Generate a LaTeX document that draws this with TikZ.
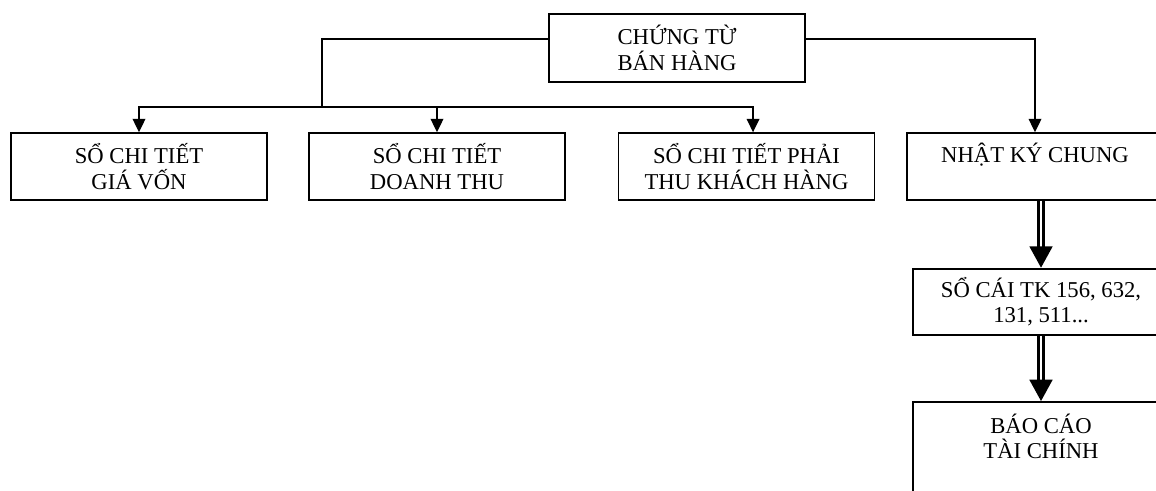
\documentclass[tikz,border=0pt]{standalone}
\usepackage{fontspec}
\setmainfont{Liberation Serif}
\usetikzlibrary{arrows.meta}
\begin{document}
\begin{tikzpicture}[x=0.75pt,y=-0.75pt,
  box/.style={draw, line width=1.4pt, align=center, minimum width=192pt,
    inner sep=0pt, font=\fontsize{17}{19}\selectfont},
  link/.style={line width=1pt},
  arr/.style={link, -{Triangle[length=10pt,width=9.5pt]}},
  dbl/.style={line width=2pt, double distance=1.8pt,
    -{Triangle[length=16pt,width=17pt]}}]
\useasboundingbox (0,0) rectangle (1156,490);
\clip (0,0) rectangle (1156,490);

% source document
\node[box, minimum height=51pt] (ct) at (677,48) {CHỨNG TỪ\\BÁN HÀNG};

% detail ledgers
\node[box, minimum height=50pt] (gv) at (139,166.5) {SỔ CHI TIẾT\\GIÁ VỐN};
\node[box, minimum height=50pt] (dt) at (437,166.5) {SỔ CHI TIẾT\\DOANH THU};
\node[box, minimum height=50pt] (pt) at (746.5,166.5) {SỔ CHI TIẾT PHẢI\\THU KHÁCH HÀNG};

% general journal chain
\node[box, minimum height=50pt] (nkc) at (1035,166.5) {NHẬT KÝ CHUNG\\[2pt]~};
\node[box, minimum height=50pt] (sc) at (1041,302) {SỔ CÁI TK 156, 632,\\131, 511...};
\node[box, minimum height=75pt] (bc) at (1041,452) {BÁO CÁO\\TÀI CHÍNH\\[5pt]~};

% branch points
\coordinate (cl) at (322,39);
\coordinate (j) at (322,107);
\coordinate (cr) at (1035,39);

\draw[link] (ct.west |- cl) -- (cl) -- (j);
\draw[arr] (j) -| (gv.north);
\draw[arr] (j -| dt.north) -- (dt.north);
\draw[arr] (j) -| ([xshift=4.9pt]pt.north);
\draw[arr] (ct.east |- cr) -| (nkc.north);

\draw[dbl] (nkc.south -| sc.north) -- (sc.north);
\draw[dbl] (sc.south) -- (bc.north);
\end{tikzpicture}
\end{document}
